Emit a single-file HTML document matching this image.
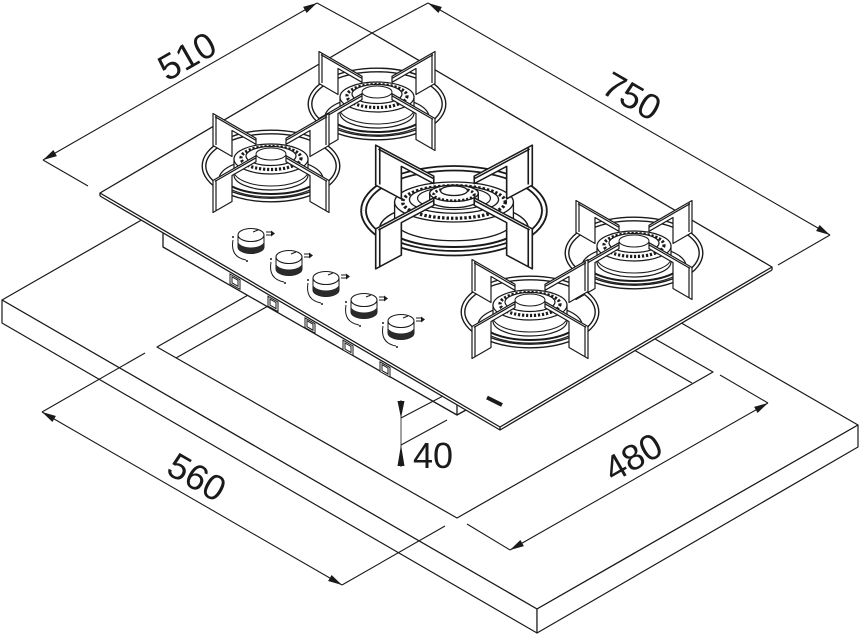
<!DOCTYPE html>
<html><head><meta charset="utf-8">
<style>
html,body{margin:0;padding:0;background:#fff}
svg{display:block}
text{font-family:"Liberation Sans",Arial,sans-serif;fill:#1a1a1a}
</style></head>
<body>
<svg width="860" height="640" viewBox="0 0 860 640" xmlns="http://www.w3.org/2000/svg">
<defs>
  <g id="ringB">
    <path d="M-67,19 A67,34 0 0 1 67,19" fill="none" stroke="#1a1a1a" stroke-width="5"/>
    <path d="M-67,19 A67,34 0 0 1 67,19" fill="none" stroke="#fff" stroke-width="2.2"/>
  </g>
  <g id="ringF">
    <path d="M67,19 A67,34 0 0 1 -67,19" fill="none" stroke="#1a1a1a" stroke-width="5"/>
    <path d="M67,19 A67,34 0 0 1 -67,19" fill="none" stroke="#fff" stroke-width="2.2"/>
  </g>
  <g id="core" stroke="#1a1a1a">
    <ellipse cx="0" cy="32" rx="52" ry="21" fill="#fff" stroke-width="1.2"/>
    <path d="M-51,30 A51,20 0 0 0 51,30" fill="none" stroke-width="1"/>
    <path d="M-49,28 A49,19 0 0 0 49,28" fill="none" stroke-width="2"/>
    <path d="M-37,12 V28 A37,15 0 0 0 37,28 V12 Z" fill="#fff" stroke-width="1.2"/>
    <path d="M-37,24 A37,15 0 0 0 37,24" fill="none" stroke-width="1"/>
    <ellipse cx="0" cy="12" rx="37" ry="15" fill="#fff" stroke-width="1.2"/>
    <ellipse cx="0" cy="11" rx="30" ry="11.5" fill="none" stroke-width="3.2" stroke-dasharray="2.2 1.8"/>
    <ellipse cx="0" cy="9" rx="25" ry="9.5" fill="#fff" stroke-width="1.2"/>
    <ellipse cx="0" cy="7" rx="15" ry="6" fill="none" stroke-width="1"/>
  </g>
  <g id="coreW" stroke="#1a1a1a">
    <ellipse cx="0" cy="33" rx="55" ry="21" fill="#fff" stroke-width="1.1"/>
    <path d="M-53,31 A53,20 0 0 0 53,31" fill="none" stroke-width="0.9"/>
    <path d="M-51,29 A51,19 0 0 0 51,29" fill="none" stroke-width="1.6"/>
    <path d="M-44,12 V27 A44,16 0 0 0 44,27 V12 Z" fill="#fff" stroke-width="1"/>
    <ellipse cx="0" cy="12" rx="44" ry="16" fill="#fff" stroke-width="1"/>
    <ellipse cx="0" cy="12" rx="38" ry="13" fill="none" stroke-width="2.6" stroke-dasharray="1.8 1.5"/>
    <ellipse cx="0" cy="10" rx="33" ry="11" fill="#fff" stroke-width="1"/>
    <ellipse cx="0" cy="9" rx="27" ry="9" fill="none" stroke-width="0.9"/>
    <path d="M-18,5 V10 A18,6.5 0 0 0 18,10 V5" fill="#fff" stroke-width="1"/>
    <ellipse cx="0" cy="5" rx="18" ry="6.5" fill="#fff" stroke-width="1"/>
    <ellipse cx="0" cy="6" rx="15" ry="5" fill="none" stroke-width="2.2" stroke-dasharray="1.6 1.4"/>
    <ellipse cx="0" cy="3" rx="10" ry="3.8" fill="#fff" stroke-width="1"/>
  </g>
  <g id="armsB" fill="#fff" stroke="#1a1a1a" stroke-width="1.2" stroke-linejoin="round">
    <path d="M-15,-8.7 L-58,-33.5 V-1.5 L-39,9.5 V-16.5 L-15,-2.7 Z"/>
    <path d="M15,-8.7 L58,-33.5 V-1.5 L39,9.5 V-16.5 L15,-2.7 Z"/>
    <path d="M-15,-6.6 L-56,-30.3 M15,-6.6 L56,-30.3 M-55,-31.5 V-2 M55,-31.5 V-2" fill="none"/>
  </g>
  <g id="armsF" fill="#fff" stroke="#1a1a1a" stroke-width="1.2" stroke-linejoin="round">
    <path d="M-15,8.7 L-58,33.5 V65.5 L-39,54.5 V28.5 L-15,14.7 Z"/>
    <path d="M15,8.7 L58,33.5 V65.5 L39,54.5 V28.5 L15,14.7 Z"/>
    <path d="M-15,10.8 L-56,34.4 M15,10.8 L56,34.4 M-55,33 V64 M55,33 V64" fill="none"/>
  </g>
  <g id="knob" stroke="#1a1a1a">
    <path d="M-13,0 V12 A13,6.5 0 0 0 13,12 V0 Z" fill="#fff" stroke-width="1"/>
    <path d="M-13,6 A13,6.5 0 0 0 13,6 V12 A13,6.5 0 0 1 -13,12 Z" fill="#2a2a2a" stroke="none"/>
    <ellipse cx="0" cy="0" rx="13" ry="6.5" fill="#fff" stroke-width="1.1"/>
    <path d="M2,-3 L7,-5" fill="none" stroke-width="1"/>
    <path d="M-18,5 Q-21,22 -5,25" fill="none" stroke-width="1"/>
    <circle cx="-18" cy="2" r="1" fill="#1a1a1a" stroke="none"/>
    <circle cx="-4" cy="26" r="1" fill="#1a1a1a" stroke="none"/>
    <path d="M15,-3 H20 M15,0 H20" fill="none" stroke-width="1"/>
    <path d="M20,-4.5 L24,-1.5 L20,1.5 Z" fill="#1a1a1a" stroke="none"/>
  </g>
  <g id="slot" fill="#fff" stroke="#1a1a1a" stroke-width="1">
    <polygon points="0,0 10,5.8 10,15.3 0,9.7"/>
    <polygon points="2,2.8 8,6.3 8,12.3 2,8.8"/>
  </g>
</defs>

<!-- Countertop slab -->
<g fill="#fff" stroke="#1a1a1a" stroke-width="1.2" stroke-linejoin="round">
  <polygon points="2,300 323,116 858,425 537,609"/>
  <polygon points="2,300 537,609 537,633 2,323"/>
  <polygon points="537,609 858,425 858,447 537,633"/>
  <!-- cutout -->
  <polygon points="157,347 413,201 713,372 457,518"/>
  <polyline fill="none" points="176,358 413,224 692,383"/>
</g>

<!-- Dimension lines -->
<g stroke="#1a1a1a" stroke-width="1.1" fill="none">
  <line x1="43" y1="160" x2="317" y2="3"/>
  <line x1="43" y1="160" x2="88" y2="186"/>
  <line x1="317" y1="3" x2="372" y2="33"/>
  <line x1="428" y1="3" x2="830" y2="235"/>
  <line x1="428" y1="3" x2="372" y2="33"/>
  <line x1="830" y1="235" x2="778" y2="265"/>
  <line x1="42" y1="412" x2="342" y2="585"/>
  <line x1="42" y1="412" x2="145" y2="353"/>
  <line x1="342" y1="585" x2="445" y2="526"/>
  <line x1="510" y1="550" x2="768" y2="403"/>
  <line x1="768" y1="403" x2="720" y2="375"/>
  <line x1="510" y1="550" x2="467" y2="524"/>
</g>
<g fill="#1a1a1a" stroke="none">
  <polygon points="317,3 306.6,13.0 303.1,6.9"/>
  <polygon points="43,160 56.9,156.1 53.4,150.0"/>
  <polygon points="428,3 438.4,13.0 441.9,7.0"/>
  <polygon points="830,235 816.1,231.0 819.6,225.0"/>
  <polygon points="42,412 52.4,422.0 55.9,416.0"/>
  <polygon points="342,585 328.1,581.0 331.6,575.0"/>
  <polygon points="768,403 757.6,413.0 754.1,406.9"/>
  <polygon points="510,550 523.9,546.1 520.4,540.0"/>
</g>

<!-- Hob -->
<polygon fill="#fff" stroke="none" points="100,193 372,33 772,267 772,270 500,430 457,404.8 457,415 163,247 163,232.9 100,196"/>
<g fill="none" stroke="#1a1a1a" stroke-width="1.3" stroke-linejoin="round">
  <polygon points="100,193 372,33 772,267 500,427"/>
  <polyline points="100,196 500,430 772,270"/>
  <line x1="100" y1="193" x2="100" y2="196"/>
  <line x1="500" y1="427" x2="500" y2="430"/>
  <line x1="772" y1="267" x2="772" y2="270"/>
  <polyline points="163,233 163,247 457,415 457,405"/>
  <line x1="457" y1="415" x2="466" y2="410"/>
</g>

<!-- slots -->
<use href="#slot" transform="translate(230,274)"/>
<use href="#slot" transform="translate(268,296.3)"/>
<use href="#slot" transform="translate(305,317.9)"/>
<use href="#slot" transform="translate(343,340.2)"/>
<use href="#slot" transform="translate(380,361.8)"/>

<!-- burners (back to front) -->
<g transform="translate(377,85)"><use href="#ringB"/><use href="#core"/><use href="#armsB"/><use href="#ringF"/><use href="#armsF"/></g>
<g transform="translate(271,147)"><use href="#ringB"/><use href="#core"/><use href="#armsB"/><use href="#ringF"/><use href="#armsF"/></g>
<g transform="translate(454,187) scale(1.35,1.25)"><use href="#ringB"/><use href="#coreW"/><use href="#armsB"/><use href="#ringF"/><use href="#armsF"/></g>
<g transform="translate(634,234)"><use href="#ringB"/><use href="#core"/><use href="#armsB"/><use href="#ringF"/><use href="#armsF"/></g>
<g transform="translate(530,293)"><use href="#ringB"/><use href="#core"/><use href="#armsB"/><use href="#ringF"/><use href="#armsF"/></g>

<!-- knobs -->
<use href="#knob" transform="translate(251,235)"/>
<use href="#knob" transform="translate(289,257)"/>
<use href="#knob" transform="translate(326,278)"/>
<use href="#knob" transform="translate(364,300)"/>
<use href="#knob" transform="translate(401,321)"/>

<!-- logo mark -->
<line x1="487" y1="397.5" x2="502" y2="405" stroke="#1a1a1a" stroke-width="4"/>

<!-- 40 dimension -->
<g stroke="#1a1a1a" stroke-width="1.1" fill="none">
  <line x1="401" y1="400" x2="401" y2="467" stroke="#555"/>
  <line x1="401" y1="418" x2="443" y2="396"/>
  <line x1="401" y1="445" x2="447" y2="420"/>
</g>
<polygon points="401,418 397.5,401 404.5,401" fill="#1a1a1a"/>
<polygon points="401,445 397.5,466 404.5,466" fill="#1a1a1a"/>

<!-- labels -->
<text x="187" y="68.6" font-size="36" text-anchor="middle" transform="rotate(-29.8 187 56)">510</text>
<text x="632" y="108.6" font-size="36" text-anchor="middle" transform="rotate(30 632 96)">750</text>
<text x="197" y="489.6" font-size="36" text-anchor="middle" transform="rotate(30 197 477)">560</text>
<text x="633" y="469.6" font-size="36" text-anchor="middle" transform="rotate(-29.7 633 457)">480</text>
<text x="413" y="468" font-size="36">40</text>
</svg>
</body></html>
